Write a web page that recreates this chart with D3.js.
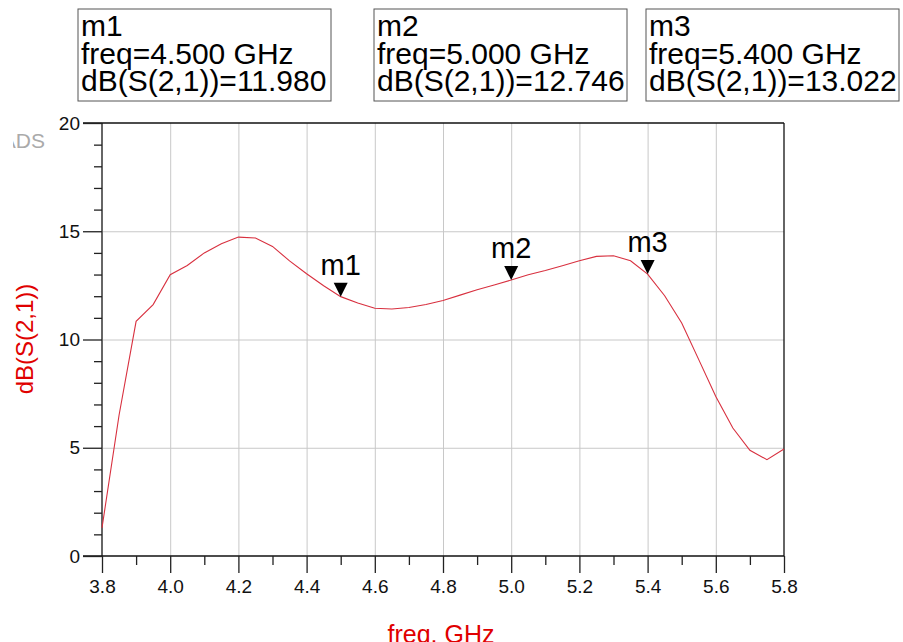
<!DOCTYPE html>
<meta charset="utf-8">
<style>
body { margin: 0; background: #fff; }
text { font-family: "Liberation Sans", Arial, sans-serif; }
.grid line { stroke: #c8c8c8; stroke-width: 1px; }
.grid path { display: none; }
.axis path { display: none; }
.axis line { stroke: #222; stroke-width: 1.3px; }
.axis text { font-size: 19px; fill: #111; font-family: "Liberation Sans", Arial, sans-serif; }
</style>
<body>
<svg width="903" height="642"></svg>
<script src="https://d3js.org/d3.v7.min.js"></script>
<script>

// S21 sweep
var freq = [3.80, 3.85, 3.90, 3.95, 4.00, 4.05, 4.10, 4.15, 4.20, 4.25, 4.30, 4.35, 4.40, 4.45, 4.50,
            4.55, 4.60, 4.65, 4.70, 4.75, 4.80, 4.85, 4.90, 4.95, 5.00, 5.05, 5.10, 5.15, 5.20, 5.25,
            5.30, 5.35, 5.40, 5.45, 5.50, 5.55, 5.60, 5.65, 5.70, 5.75, 5.80];
var s21 = [1.3, 6.5, 10.84, 11.61, 12.99, 13.42, 14.0, 14.42, 14.73, 14.69, 14.3, 13.63, 13.04, 12.48, 11.98,
           11.69, 11.44, 11.41, 11.48, 11.62, 11.8, 12.05, 12.3, 12.52, 12.746, 12.99, 13.19, 13.41, 13.64, 13.84,
           13.87, 13.64, 13.022, 12.02, 10.76, 9.07, 7.37, 5.91, 4.88, 4.45, 4.94];

var markerNames = ["m1", "m2", "m3"];
var markerFreq = [4.5, 5.0, 5.4];
var markerVal = [11.980, 12.746, 13.022];
var markerBoxX = [78, 374, 646];

var xMajor = [3.8, 4.0, 4.2, 4.4, 4.6, 4.8, 5.0, 5.2, 5.4, 5.6, 5.8];
var xMinor = [3.9, 4.1, 4.3, 4.5, 4.7, 4.9, 5.1, 5.3, 5.5, 5.7];
var yMajor = [0, 5, 10, 15, 20];
var yMinor = [1, 2, 3, 4, 6, 7, 8, 9, 11, 12, 13, 14, 16, 17, 18, 19];

var svg = d3.select("svg");
var pLeft = 102, pRight = 784, pTop = 123, pBottom = 556;

var x = d3.scaleLinear().domain([3.8, 5.8]).range([pLeft, pRight]);
var y = d3.scaleLinear().domain([0, 20]).range([pBottom, pTop]);

svg.append("rect").attr("width", 903).attr("height", 642).attr("fill", "#fff");

// grid
svg.append("g").attr("class", "grid")
    .attr("transform", "translate(0," + pBottom + ")")
    .call(d3.axisBottom(x).tickValues(xMajor.slice(1, -1)).tickSize(-(pBottom - pTop)).tickFormat(""));
svg.append("g").attr("class", "grid")
    .attr("transform", "translate(" + pLeft + ",0)")
    .call(d3.axisLeft(y).tickValues([5, 10, 15]).tickSize(-(pRight - pLeft)).tickFormat(""));

// frame
svg.append("line").attr("x1", pLeft).attr("x2", pLeft).attr("y1", pTop).attr("y2", pBottom)
    .attr("stroke", "#666").attr("stroke-width", 2);
svg.append("line").attr("x1", pRight).attr("x2", pRight).attr("y1", pTop).attr("y2", pBottom)
    .attr("stroke", "#111").attr("stroke-width", 1.3);
svg.append("line").attr("x1", pLeft - 19).attr("x2", pRight).attr("y1", pTop).attr("y2", pTop)
    .attr("stroke", "#111").attr("stroke-width", 1.3);
svg.append("line").attr("x1", pLeft - 19).attr("x2", pRight).attr("y1", pBottom).attr("y2", pBottom)
    .attr("stroke", "#111").attr("stroke-width", 1.3);

// y axis
svg.append("g").attr("class", "axis")
    .attr("transform", "translate(" + pLeft + ",0)")
    .call(d3.axisLeft(y).tickValues(yMajor).tickSize(19).tickPadding(3));
svg.append("g").attr("class", "axis")
    .attr("transform", "translate(" + pLeft + ",0)")
    .call(d3.axisLeft(y).tickValues(yMinor).tickSize(8).tickFormat(""));

// x axis
svg.append("g").attr("class", "axis")
    .attr("transform", "translate(0," + pBottom + ")")
    .call(d3.axisBottom(x).tickValues(xMajor).tickSize(17).tickPadding(7).tickFormat(d3.format(".1f")));
svg.append("g").attr("class", "axis")
    .attr("transform", "translate(0," + pBottom + ")")
    .call(d3.axisBottom(x).tickValues(xMinor).tickSize(9).tickFormat(""));

// curve
var line = d3.line()
    .x(function(d, i) { return x(freq[i]); })
    .y(function(d) { return y(d); });

svg.append("path")
    .datum(s21)
    .attr("d", line)
    .attr("fill", "none")
    .attr("stroke", "#d8303f")
    .attr("stroke-width", 1.1);

// markers on the trace
var mk = svg.selectAll(".mk")
    .data(markerNames)
    .enter().append("g")
    .attr("class", "mk")
    .attr("transform", function(d, i) {
      return "translate(" + x(markerFreq[i]) + "," + y(markerVal[i]) + ")";
    });
mk.append("path").attr("d", "M-7,-14L7,-14L0,0Z").attr("fill", "#000");
mk.append("text").attr("y", -22).attr("text-anchor", "middle")
    .attr("font-size", 29).attr("fill", "#000")
    .text(function(d) { return d; });

// marker readout boxes
var box = svg.selectAll(".box")
    .data(markerNames)
    .enter().append("g")
    .attr("class", "box")
    .attr("transform", function(d, i) { return "translate(" + markerBoxX[i] + ",9)"; });
box.append("rect").attr("width", 253).attr("height", 92)
    .attr("fill", "#fff").attr("stroke", "#555").attr("stroke-width", 1);
box.append("text").attr("x", 3).attr("y", 27).attr("font-size", 30)
    .text(function(d) { return d; });
box.append("text").attr("x", 3).attr("y", 54.5).attr("font-size", 30)
    .text(function(d, i) { return "freq=" + markerFreq[i].toFixed(3) + " GHz"; });
box.append("text").attr("x", 3).attr("y", 82).attr("font-size", 30)
    .text(function(d, i) { return "dB(S(2,1))=" + markerVal[i].toFixed(3); });

// axis titles
svg.append("text")
    .attr("transform", "translate(33,339) rotate(-90)")
    .attr("text-anchor", "middle")
    .attr("font-size", 24).attr("fill", "#e00000")
    .text("dB(S(2,1))");
svg.append("text")
    .attr("x", 441).attr("y", 643)
    .attr("text-anchor", "middle")
    .attr("font-size", 25).attr("fill", "#e00000")
    .text("freq, GHz");

// ADS watermark, clipped at the left
svg.append("clipPath").attr("id", "adsclip")
  .append("rect").attr("x", 13).attr("y", 120).attr("width", 60).attr("height", 40);
svg.append("text")
    .attr("clip-path", "url(#adsclip)")
    .attr("x", 45).attr("y", 148)
    .attr("text-anchor", "end")
    .attr("font-size", 21).attr("fill", "#aaa")
    .attr("font-family", "'DejaVu Sans Condensed', sans-serif")
    .text("ADS");

</script>
</body>
